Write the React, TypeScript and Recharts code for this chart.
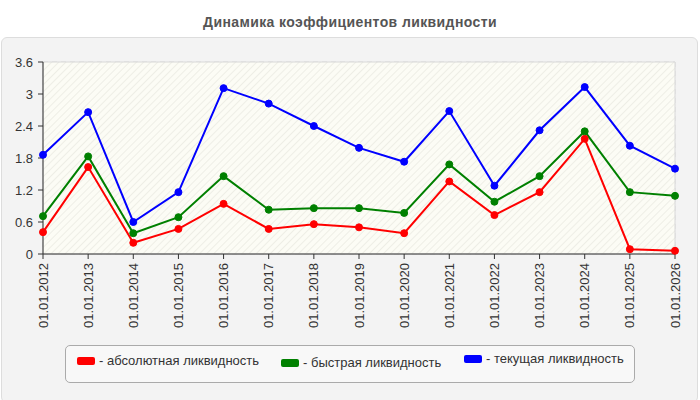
import React from 'react';
import {
  LineChart,
  Line,
  XAxis,
  YAxis,
  CartesianGrid,
  ReferenceArea,
} from 'recharts';

const dates = [
  '01.01.2012', '01.01.2013', '01.01.2014', '01.01.2015', '01.01.2016',
  '01.01.2017', '01.01.2018', '01.01.2019', '01.01.2020', '01.01.2021',
  '01.01.2022', '01.01.2023', '01.01.2024', '01.01.2025', '01.01.2026',
];

const absolute = [0.41, 1.63, 0.21, 0.47, 0.94, 0.47, 0.56, 0.5, 0.39, 1.36, 0.73, 1.16, 2.16, 0.09, 0.06];
const quick = [0.71, 1.83, 0.39, 0.69, 1.46, 0.83, 0.86, 0.86, 0.77, 1.68, 0.98, 1.46, 2.3, 1.16, 1.09];
const current = [1.86, 2.66, 0.6, 1.16, 3.11, 2.82, 2.4, 1.99, 1.73, 2.68, 1.28, 2.32, 3.13, 2.03, 1.6];

const yTicks = [0, 0.6, 1.2, 1.8, 2.4, 3, 3.6];

const series = [
  { key: 'absolute', name: '- абсолютная ликвидность', color: '#ff0000' },
  { key: 'quick', name: '- быстрая ликвидность', color: '#008000' },
  { key: 'current', name: '- текущая ликвидность', color: '#0000ff' },
];

const data = dates.map((date, i) => ({
  date,
  absolute: absolute[i],
  quick: quick[i],
  current: current[i],
}));

const FONT = '"Liberation Sans", Arial, sans-serif';

// подпись оси X, повернутая вертикально
function DateTick({ x, y, payload }: any) {
  return (
    <text
      x={x}
      y={y}
      transform={`rotate(-90, ${x}, ${y})`}
      textAnchor="end"
      dy="0.35em"
      fill="#333"
      fontSize={13}
      fontFamily={FONT}
    >
      {payload.value}
    </text>
  );
}

// позиции элементов легенды внутри рамки
const legendLeft = [11, 215, 398];
const legendTop = [7, 9, 5];

function LegendBox() {
  return (
    <div
      style={{
        position: 'absolute',
        left: 65,
        top: 345,
        width: 570,
        height: 38,
        border: '1px solid #aaa',
        borderRadius: 5,
        background: '#f8f8f8',
        boxSizing: 'border-box',
        fontFamily: FONT,
        fontSize: 13,
        lineHeight: '15px',
        color: '#333',
      }}
    >
      {series.map((s, i) => (
        <div
          key={s.key}
          style={{
            position: 'absolute',
            left: legendLeft[i],
            top: legendTop[i],
            display: 'flex',
            alignItems: 'center',
            whiteSpace: 'nowrap',
          }}
        >
          <span
            style={{
              display: 'inline-block',
              width: 18,
              height: 8,
              background: s.color,
              borderRadius: 2,
              marginRight: 4,
            }}
          />
          {s.name}
        </div>
      ))}
    </div>
  );
}

export default function App() {
  return (
    <div
      style={{
        position: 'absolute',
        left: 0,
        top: 0,
        width: 700,
        height: 400,
        background: '#fff',
        overflow: 'hidden',
      }}
    >
      <div
        style={{
          position: 'absolute',
          left: 0,
          top: 14,
          width: 700,
          textAlign: 'center',
          fontFamily: FONT,
          fontWeight: 'bold',
          fontSize: 14,
          letterSpacing: 0.4,
          color: '#555',
        }}
      >
        Динамика коэффициентов ликвидности
      </div>
      <div
        style={{
          position: 'absolute',
          left: 1,
          top: 37,
          width: 697,
          height: 366,
          background: '#f3f3f3',
          border: '1px solid #ddd',
          borderRadius: 6,
          boxSizing: 'border-box',
        }}
      />
      <div style={{ position: 'absolute', left: 0, top: 0 }}>
        <LineChart
          width={700}
          height={400}
          data={data}
          margin={{ top: 62, right: 25, left: 0, bottom: 70 }}
        >
          <defs>
            <pattern id="hatch" width="5" height="5" patternUnits="userSpaceOnUse" patternTransform="rotate(45)">
              <rect width="5" height="5" fill="#fcfcf5" />
              <line x1="0" y1="0" x2="0" y2="5" stroke="#eeeee6" strokeWidth="2" />
            </pattern>
          </defs>
          <ReferenceArea
            x1={dates[0]}
            x2={dates[dates.length - 1]}
            y1={0}
            y2={3.6}
            fill="url(#hatch)"
            fillOpacity={1}
            stroke="#d8d8d8"
            ifOverflow="extendDomain"
          />
          <CartesianGrid stroke="#dcdcdc" strokeDasharray="5 4" />
          <XAxis
            dataKey="date"
            interval={0}
            height={76}
            tick={<DateTick />}
            tickSize={5}
            tickMargin={4}
            stroke="#333"
          />
          <YAxis
            domain={[0, 3.6]}
            ticks={yTicks}
            width={43}
            interval={0}
            tickSize={5}
            tickMargin={5}
            stroke="#333"
            tick={{ fill: '#333', fontSize: 13, fontFamily: FONT }}
          />
          {series.map((s) => (
            <Line
              key={s.key}
              type="linear"
              dataKey={s.key}
              stroke={s.color}
              strokeWidth={2}
              dot={{ r: 3.5, fill: s.color, stroke: s.color, strokeWidth: 1 }}
              isAnimationActive={false}
            />
          ))}
        </LineChart>
      </div>
      <LegendBox />
    </div>
  );
}
